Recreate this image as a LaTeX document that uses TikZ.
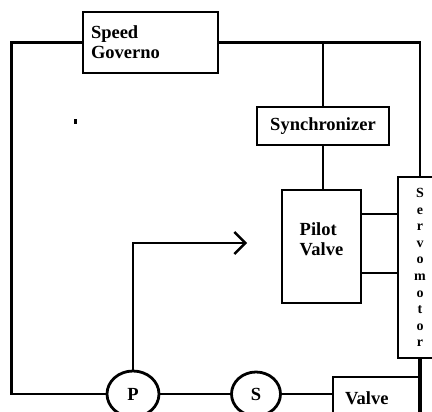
\documentclass[tikz,border=0pt]{standalone}
\usepackage{fontspec}
\setmainfont{Liberation Serif}
\usetikzlibrary{shapes.geometric,arrows.meta}
\begin{document}
\begin{tikzpicture}[x=1pt,y=-1pt,line width=2.8pt,
    blok/.style={draw, rectangle, inner sep=0pt, font=\fontsize{18.5}{20}\selectfont\bfseries},
    rond/.style={draw, ellipse, inner sep=0pt, font=\fontsize{18.5}{20}\selectfont\bfseries}]
    \useasboundingbox (0,0) rectangle (432,412);
    % === Blocchi ===
    \node[blok, minimum width=135pt, minimum height=61pt, text width=119pt, align=left] (gov) at (150.5,42.5) {Speed\\Governo};
    \node[blok, minimum width=132pt, minimum height=38pt] (sync) at (323,126) {Synchronizer};
    \node[blok, minimum width=79pt, minimum height=113pt, align=left, text depth=15pt] (pilot) at (321.5,246.5) {Pilot\\Valve};
    \node[blok, minimum width=44pt, minimum height=181pt, align=center, font=\fontsize{14}{16.6}\selectfont\bfseries] (servo) at (420,267.5) {S\\e\\r\\v\\o\\m\\o\\t\\o\\r};
    \node[blok, minimum width=88pt, minimum height=43pt, text width=64pt, align=left] (valve) at (377,398.5) {Valve};
    % === Cerchi ===
    \node[rond, minimum width=52pt, minimum height=46pt] (P) at (133,394) {P};
    \node[rond, minimum width=49pt, minimum height=44pt] (S) at (256,394) {S};
    \coordinate (tip) at (247,243);
    % Collegamenti
    \draw (gov.west) -- ++(-70,0) |- (P.west);
    \draw (gov.east) -| (servo.north);
    \draw (sync.north) -- (sync.north |- gov.east);
    \draw (sync.south) -- (sync.south |- pilot.north);
    \draw (pilot.east |- 0,214) -- (servo.west |- 0,214);
    \draw (pilot.east |- 0,273) -- (servo.west |- 0,273);
    \draw[-{Straight Barb[length=11pt,width=22pt,line width=2.4pt]}] (P.north) |- (tip);
    \draw (P.east) -- (S.west);
    \draw (S.east) -- (S.east -| valve.west);
    \draw[line width=4pt] (servo.south) -- ++(0,60);
    % punto isolato
    \fill (74,119) rectangle (77,124);
\end{tikzpicture}
\end{document}
